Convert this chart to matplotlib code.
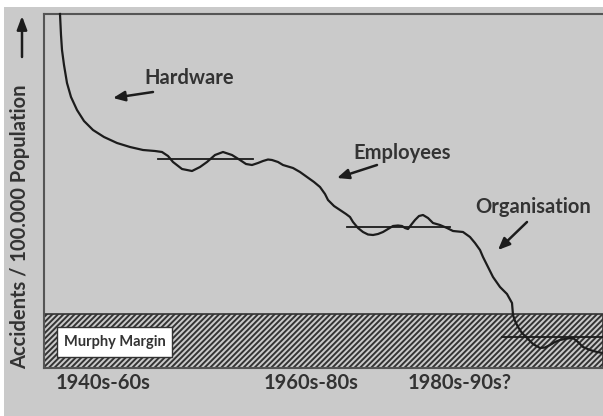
"""
Accident rate over time: Hardware / Employees / Organisation phases
"""
import matplotlib
matplotlib.use('Agg')
import matplotlib.pyplot as plt
from matplotlib.patches import Rectangle

# Curve (x: time units, y: accident rate units)
curve_x = [16, 17, 18, 20, 23, 27, 33, 40, 49, 60, 73, 86, 99, 111, 118, 124, 129,
           138, 148, 156, 163, 171, 179, 188, 196, 202, 208, 214, 219, 224, 228, 234,
           239, 249, 256, 263, 270, 276, 281, 284, 290, 296, 302, 306, 309, 314, 319,
           324, 329, 334, 339, 344, 349, 354, 358, 361, 364, 367, 371, 375, 379, 384,
           389, 396, 403, 409, 419, 426, 431, 436, 439, 444, 449, 456, 463, 468, 469,
           471, 474, 478, 483, 489, 496, 501, 506, 511, 516, 523, 529, 534, 539, 546,
           553, 559]
curve_y = [354, 333, 318, 303, 285, 271, 258, 247, 238, 231, 225, 221, 218, 217, 216,
           212, 206, 199, 197, 201, 206, 213, 216, 213, 208, 204, 203, 205, 207, 208.5,
           208, 206, 203, 200, 196, 191, 186, 181, 174, 168, 162, 158, 154, 151, 146,
           140, 136, 133.5, 133, 134, 136, 139, 142, 142.5, 142, 140, 139, 143, 148,
           152, 153, 150, 145, 143, 140, 137, 136, 131, 125, 118, 111, 101, 91, 81, 74,
           65, 53, 47, 41, 35, 30, 24, 20, 20.5, 23, 26, 28, 29.5, 30, 26, 21, 18, 16, 15]

# Plateau (trend) levels per phase
plateau_level = [209, 141, 31]
plateau_start = [114, 303, 458]
plateau_end = [209, 406, 560]

murphy_margin = 54  # top of the hatched band

phase_labels = ['Hardware', 'Employees', 'Organisation']
label_pos = [(145, 290), (358, 215), (489, 161)]
arrow_tail = [(109, 276), (333, 203), (483, 146)]
arrow_head = [(69, 270), (293, 190), (454, 118)]

period_labels = ['1940s-60s', '1960s-80s', '1980s-90s?']
period_x = [59, 267, 416]

bg = '#cacaca'
ink = '#1c1c1c'
txt = '#333333'
plt.rcParams['font.family'] = ['Lato', 'DejaVu Sans']
plt.rcParams['hatch.linewidth'] = 1.4
plt.rcParams['hatch.color'] = '#333333'

fig = plt.figure(figsize=(6.03, 4.16), dpi=100, facecolor=bg)
# thin white strips at top and left edges of the scan
fig.patches.append(Rectangle((0, (416 - 7) / 416), 1, 7 / 416, transform=fig.transFigure,
                             facecolor='white', edgecolor='none'))
fig.patches.append(Rectangle((0, 0), 4 / 603, 1, transform=fig.transFigure,
                             facecolor='white', edgecolor='none'))
ax = fig.add_axes([44 / 603, 48 / 416, 1 - 44 / 603, 354 / 416])
ax.set_facecolor(bg)
ax.set_xlim(0, 559)
ax.set_ylim(0, 354)
ax.set_xticks([])
ax.set_yticks([])
for side in ['left', 'top', 'bottom']:
    ax.spines[side].set_color('#555555')
    ax.spines[side].set_linewidth(1.5)
ax.spines['right'].set_visible(False)

# Murphy margin band
ax.add_patch(Rectangle((0, 0), 559, murphy_margin, facecolor=bg, edgecolor='#333333',
                       hatch='//////', linewidth=1.2, zorder=1))
ax.add_patch(Rectangle((13, 11), 115, 30, facecolor='white', edgecolor='#333333',
                       linewidth=1.0, zorder=3))
ax.text(70.5, 26, 'Murphy Margin', ha='center', va='center', fontsize=10.5,
        fontweight='bold', color=txt, zorder=4)

# Curve and plateaus
ax.plot(curve_x, curve_y, color=ink, lw=1.6, zorder=5, clip_on=False)
for lvl, x0, x1 in zip(plateau_level, plateau_start, plateau_end):
    ax.plot([x0, x1], [lvl, lvl], color=ink, lw=1.3, zorder=4, clip_on=False)

# Phase labels with arrows
for lab, pos, tail, head in zip(phase_labels, label_pos, arrow_tail, arrow_head):
    ax.text(pos[0], pos[1], lab, ha='center', va='center', fontsize=14.5,
            fontweight='bold', color=txt)
    ax.annotate('', xy=head, xytext=tail,
                arrowprops=dict(arrowstyle='-|>,head_length=0.7,head_width=0.3',
                                color=ink, lw=1.8, shrinkA=0, shrinkB=0))

# Period labels along bottom
for lab, x in zip(period_labels, period_x):
    ax.text(x, -15, lab, ha='center', va='center', fontsize=14.5, fontweight='bold',
            color=txt, clip_on=False)

# Y axis label with upward arrow
ax.text(-24, 141, 'Accidents / 100.000 Population', rotation=90, ha='center',
        va='center', fontsize=14.5, fontweight='bold', color=txt, clip_on=False)
ax.annotate('', xy=(-22, 352), xytext=(-22, 311), annotation_clip=False,
            arrowprops=dict(arrowstyle='-|>,head_length=0.8,head_width=0.3',
                            color=ink, lw=1.8, shrinkA=0, shrinkB=0))

fig.savefig('out.png', dpi=100, facecolor=fig.get_facecolor())
